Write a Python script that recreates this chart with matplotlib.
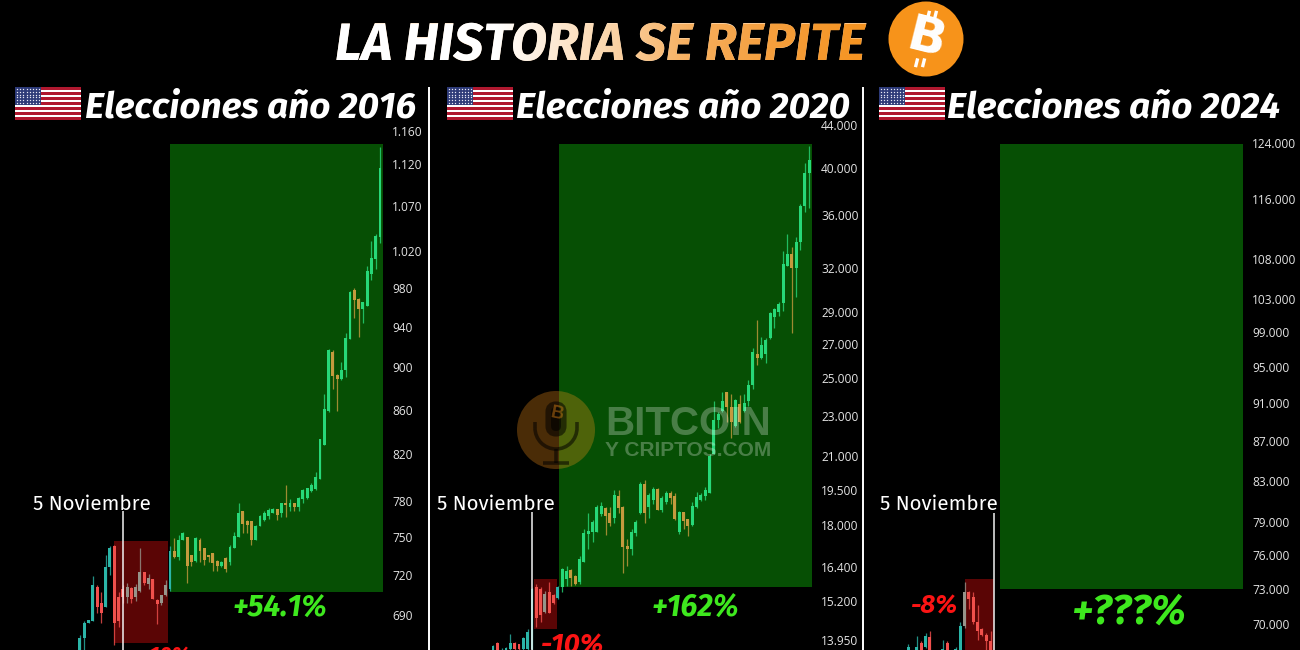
# plot.py
# Three bitcoin candle charts around the US elections, one panel per year

import numpy as np
import matplotlib
matplotlib.use("Agg")
import matplotlib.pyplot as plt
from matplotlib import font_manager as fm
from matplotlib.colors import LinearSegmentedColormap
from matplotlib.patches import Circle, FancyBboxPatch, Rectangle, Arc
from matplotlib.textpath import TextPath
from matplotlib.transforms import Affine2D

W, H = 1300, 650

# ---- data ----
open_2016 = [655, 673, 684, 685, 711, 699, 696, 726, 743, 703, 709, 703, 710, 703, 708, 722, 713, 717,
             701, 699, 705, 709, 739, 734, 748, 750, 736, 731, 748, 741, 736, 737, 731, 727, 733, 730,
             741, 750, 771, 763, 763, 748, 759, 764, 767, 770, 773, 770, 778, 775, 778, 775, 781, 782,
             788, 790, 798, 828, 859, 915, 893, 889, 897, 928, 978, 969, 958, 961, 995, 1011, 1035]
high_2016 = [675, 685, 686, 719, 712, 707, 736, 743, 744, 707, 712, 714, 711, 713, 741, 722, 721, 717,
             702, 705, 716, 743, 749, 752, 754, 750, 736, 750, 749, 741, 736, 737, 732, 731, 734, 744,
             754, 778, 771, 764, 763, 760, 768, 771, 774, 774, 773, 778, 793, 781, 778, 783, 790, 791,
             795, 804, 833, 875, 918, 917, 894, 905, 934, 977, 980, 970, 966, 1004, 1031, 1039, 1141]
low_2016 = [650, 664, 684, 685, 691, 684, 696, 720, 668, 681, 699, 699, 699, 700, 707, 712, 709, 702,
            683, 697, 704, 708, 733, 732, 748, 714, 727, 730, 730, 728, 730, 723, 723, 726, 722, 728,
            741, 750, 753, 753, 744, 748, 759, 763, 765, 770, 764, 766, 766, 771, 771, 771, 778, 781,
            787, 789, 798, 828, 858, 879, 859, 888, 891, 928, 949, 930, 944, 961, 989, 1000, 1029]
close_2016 = [673, 684, 686, 712, 696, 691, 726, 741, 684, 685, 703, 711, 702, 711, 722, 714, 718, 702,
              698, 705, 712, 739, 734, 748, 753, 727, 730, 749, 739, 732, 734, 729, 727, 730, 725, 742,
              751, 770, 761, 760, 748, 759, 767, 770, 772, 773, 768, 778, 776, 778, 775, 782, 789, 791,
              793, 800, 833, 861, 917, 892, 889, 897, 929, 976, 968, 958, 965, 998, 1012, 1036, 1115]

open_2020 = [13600, 13860, 13560, 13600, 13660, 13830, 13810, 13650, 13660, 13650, 15680, 15620, 14840,
             15510, 15400, 15300, 15680, 15970, 16300, 16070, 15880, 16600, 17640, 17720, 17750, 18480,
             18700, 18500, 18300, 19230, 18770, 17210, 17090, 17700, 18500, 19760, 18760, 19030, 19510,
             18620, 18950, 19370, 19230, 17720, 18530, 18260, 18000, 18750, 19030, 19230, 19370, 21100,
             22770, 23260, 24230, 23430, 22480, 23600, 23220, 23750, 24650, 26420, 26170, 26420, 27330,
             28640, 28960, 29600, 32110, 33010, 32000, 33900, 36700, 39570]
high_2020 = [13780, 13880, 13680, 13720, 14110, 13870, 13820, 14040, 14290, 15640, 15800, 15680, 15560,
             15860, 15460, 15740, 16360, 16450, 16320, 16130, 16830, 17850, 18500, 18200, 18820, 18960,
             18750, 18750, 19470, 19470, 18790, 17470, 17870, 18200, 19830, 19900, 19330, 19620, 19580,
             19230, 19430, 19430, 19330, 18600, 18560, 18280, 18950, 19400, 19370, 19600, 21100, 23750,
             23180, 24230, 24270, 24150, 23850, 24070, 24150, 24900, 26750, 28450, 27430, 27330, 29000,
             29270, 29640, 33240, 34530, 33510, 34300, 36900, 40430, 42000]
low_2020 = [13500, 13550, 13500, 13550, 13550, 13550, 13600, 13600, 13600, 13500, 14360, 14520, 14790,
            14790, 15120, 15280, 15510, 15740, 15740, 15760, 15810, 16580, 17060, 17340, 17750, 18370,
            17600, 17980, 18100, 18500, 16200, 16430, 16860, 17570, 18480, 18080, 18300, 18900, 18620,
            18540, 18870, 18900, 18200, 17660, 17870, 17570, 17970, 18700, 19000, 19030, 19330, 21100,
            22370, 23180, 22680, 21870, 22430, 22600, 23180, 23500, 24400, 25750, 26070, 25870, 27270,
            27950, 28740, 29060, 32110, 27680, 30000, 33280, 36250, 36570]
close_2020 = [13760, 13620, 13640, 13700, 13850, 13650, 13650, 14000, 14180, 15620, 14640, 14730, 15460,
              14790, 15150, 15680, 16320, 16260, 16000, 15790, 16700, 17700, 17780, 18130, 18750, 18790,
              18400, 18100, 19260, 18700, 17150, 17090, 17750, 18130, 19760, 18500, 19260, 19510, 18650,
              19150, 19370, 19150, 18240, 18560, 18170, 17970, 18800, 19200, 19280, 19470, 21020, 22770,
              23100, 23750, 23430, 22680, 23800, 22680, 23680, 24650, 26480, 26170, 26940, 27230, 28910,
              29210, 29500, 32230, 33010, 32000, 33880, 36750, 39570, 40660]

open_2024 = [67200, 67000, 67200, 68400, 68130, 68900, 67000, 67000, 67200, 68400, 67000, 67300, 67560,
             69840, 72690, 72260, 70120, 69550, 69120, 68610]
high_2024 = [68360, 67500, 69000, 68550, 69270, 69400, 67400, 67400, 68700, 68550, 67400, 68130, 70120,
             73540, 72830, 72690, 71550, 69700, 69270, 69410]
low_2024 = [67000, 66900, 67000, 67600, 68000, 67200, 66800, 66800, 67000, 67000, 66800, 67100, 67300,
            69700, 71260, 69980, 68700, 68980, 67840, 67000]
close_2024 = [68100, 67400, 68130, 67840, 68980, 67560, 67300, 67300, 67930, 67560, 67300, 67930, 69840,
              72690, 72120, 70120, 69410, 69120, 68550, 67560]

ticks_2016 = [1160, 1120, 1070, 1020, 980, 940, 900, 860, 820, 780, 750, 720, 690]
tick_labels_2016 = ["1.160", "1.120", "1.070", "1.020", "980", "940", "900", "860", "820", "780", "750", "720", "690"]
ticks_2020 = [44000, 40000, 36000, 32000, 29000, 27000, 25000, 23000, 21000, 19500, 18000, 16400, 15200, 13950]
tick_labels_2020 = ["44.000", "40.000", "36.000", "32.000", "29.000", "27.000", "25.000", "23.000",
                    "21.000", "19.500", "18.000", "16.400", "15.200", "13.950"]
ticks_2024 = [124000, 116000, 108000, 103000, 99000, 95000, 91000, 87000, 83000, 79000, 76000, 73000, 70000]
tick_labels_2024 = ["124.000", "116.000", "108.000", "103.000", "99.000", "95.000", "91.000", "87.000",
                    "83.000", "79.000", "76.000", "73.000", "70.000"]

years = ["2016", "2020", "2024"]
gain_labels = ["+54.1%", "+162%", "+???%"]
drop_labels = ["-10%", "-10%", "-8%"]


def pick_head_font(names):
    # only take a family that really has a static bold italic
    for n in names:
        for f in fm.fontManager.ttflist:
            if f.name == n and f.style == "italic" and f.weight in (700, "bold"):
                return n
    return "DejaVu Sans"


def pick_font(names):
    have = set(fm.fontManager.get_font_names())
    for n in names:
        if n in have:
            return n
    return "DejaVu Sans"


HEAD_FONT = pick_head_font(["Source Sans 3", "Source Sans Pro", "Fira Sans", "Fira Sans Condensed", "Open Sans"])
BODY_FONT = pick_font(["Open Sans", "Noto Sans"])
BLACK_FONT = pick_font(["Liberation Sans", "DejaVu Sans"])


def head_prop(size=10):
    return fm.FontProperties(family=HEAD_FONT, weight="bold", style="italic", size=size)


def fit_size(text, width_px, prop):
    # font size in points that makes text width_px wide at 100 dpi
    w = TextPath((0, 0), text, size=100, prop=prop).get_extents().width
    return width_px * 72 / w


def draw_candles(ax, o, h, l, c, green_x, red_x):
    o, h, l, c = map(np.array, (o, h, l, c))
    x = np.arange(len(o))
    up = c >= o
    in_green = x > green_x[0] + 0.5
    in_red = (x > red_x[0] - 0.2) & (x < red_x[1]) & ~in_green
    colors = np.where(up, "#2bb5a8", "#f2504e").astype(object)
    colors[in_red & up] = "#96948a"
    colors[in_red & ~up] = "#f0504c"
    colors[in_green & up] = "#27d878"
    colors[in_green & ~up] = "#c49a3e"
    ax.vlines(x, l, h, colors=list(colors), lw=0.9, alpha=0.8, zorder=3)
    ax.bar(x, np.abs(c - o), bottom=np.minimum(o, c), width=0.68, color=list(colors), lw=0, zorder=4)


def draw_panel(left, right, top, xlim, ylim, ticks, labels, o, h, l, c, green_box, red_box, event_x, event_top):
    ax = fig.add_axes([left / W, 0, (right - left) / W, (H - top) / H])
    ax.set_facecolor("none")
    ax.set_yscale("log")
    ax.set_xlim(*xlim)
    ax.set_ylim(*ylim)
    ax.yaxis.tick_right()
    ax.set_yticks(ticks)
    ax.set_yticklabels(labels)
    ax.minorticks_off()
    ax.tick_params(axis="y", length=0, pad=6.5, labelsize=8.6, labelcolor="#e4e4e4")
    for lab in ax.get_yticklabels():
        lab.set_fontfamily(BODY_FONT)
    ax.set_xticks([])
    for s in ax.spines.values():
        s.set_visible(False)
    ax.add_patch(Rectangle((green_box[0], green_box[2]), green_box[1] - green_box[0],
                           green_box[3] - green_box[2], color="#064f04", lw=0, zorder=1))
    ax.add_patch(Rectangle((red_box[0], red_box[2]), red_box[1] - red_box[0],
                           red_box[3] - red_box[2], color="#5a0505", lw=0, zorder=1))
    draw_candles(ax, o, h, l, c, green_box, red_box)
    ax.vlines(event_x, ylim[0], event_top, colors="#f2f2f2", lw=1.1, zorder=5)
    return ax


def draw_flag(ax, x, y, w=66, h=33):
    sh = h / 13
    for i in range(13):
        ax.add_patch(Rectangle((x, y + i * sh), w, sh, color="#b0182f" if i % 2 == 0 else "#ffffff", lw=0))
    ax.add_patch(Rectangle((x, y), w * 0.4, sh * 7, color="#2d3a78", lw=0))
    gx, gy = np.meshgrid(np.linspace(x + 2, x + w * 0.4 - 2, 8), np.linspace(y + 2, y + sh * 7 - 2, 6))
    ax.plot(gx.ravel(), gy.ravel(), ls="", marker="s", ms=0.9, mew=0, color="#e8e8f4")


fig = plt.figure(figsize=(W / 100, H / 100), dpi=100, facecolor="black")

draw_panel(0, 383, 120, (-18.65, 70.7), (664.3, 1174), ticks_2016, tick_labels_2016,
           open_2016, high_2016, low_2016, close_2016,
           (20.98, 70.7, 707, 1144), (8.0, 20.6, 669, 747), 10, 771)
draw_panel(431, 812, 120, (-14.32, 73.67), (13630, 44494), ticks_2020, tick_labels_2020,
           open_2020, high_2020, low_2020, close_2020,
           (15.17, 73.67, 15700, 42170), (9.54, 14.78, 14300, 15980), 9, 18560)
draw_panel(865, 1243, 120, (-10, 77.3), (67860, 127440), ticks_2024, tick_labels_2024,
           open_2024, high_2024, low_2024, close_2024,
           (21.2, 77.3, 73000, 123850), (13.1, 19.8, 67860, 73850), 19.7, 79850)

# overlay in pixel coordinates for the titles and decoration
top = fig.add_axes([0, 0, 1, 1], zorder=10)
top.set_xlim(0, W)
top.set_ylim(H, 0)
top.axis("off")
top.patch.set_visible(False)

for sep_x in (428.5, 863):
    top.plot([sep_x, sep_x], [87, H], color="white", lw=1.4, solid_capstyle="butt")

# main title: real text with an orange gradient laid over it
title = "LA HISTORIA SE REPITE"
title_x, title_base = 335, 60
title_size = fit_size(title, 530, head_prop())
head_fp = head_prop(title_size)
top.text(title_x, title_base, title, fontproperties=head_fp, color="#ffe2c2", va="baseline", ha="left")
tpath = TextPath((0, 0), title, size=title_size, prop=head_fp)
tr = Affine2D().scale(100 / 72, -100 / 72).translate(title_x, title_base) + top.transData
cmap = LinearSegmentedColormap.from_list("title", [(0, "#ffffff"), (0.3, "#ffffff"), (0.5, "#fbd8b0"),
                                                    (0.66, "#f7b060"), (0.8, "#f5a040"), (1, "#f5931f")])
img = top.imshow(np.linspace(0, 1, 256)[None, :], extent=(title_x, 870, 70, 10), cmap=cmap, aspect="auto", zorder=3)
img.set_clip_path(tpath, transform=tr)
top.set_xlim(0, W)
top.set_ylim(H, 0)

# bitcoin coin
top.add_patch(Circle((926, 39), 37.5, color="#f7931a", lw=0))
top.text(926, 39, "B", rotation=-14, ha="center", va="center", rotation_mode="anchor",
         family="DejaVu Sans", weight="bold", size=36, color="white")
ang = np.deg2rad(14)
for dx in (-3.5, 3.5):
    for s1, s2 in ((-29, -20), (20, 29)):
        xs = [926 + dx - s1 * np.sin(ang), 926 + dx - s2 * np.sin(ang)]
        ys = [39 + s1 * np.cos(ang), 39 + s2 * np.cos(ang)]
        top.plot(xs, ys, color="white", lw=2.4, solid_capstyle="butt")

# panel headings
heading_size = fit_size("Elecciones año 2016", 329, head_prop())
for flag_x, text_x, year in zip((15, 447, 879), (85, 516, 947), years):
    draw_flag(top, flag_x, 87)
    top.text(text_x, 117, "Elecciones año " + year, fontproperties=head_prop(heading_size),
             color="white", va="baseline", ha="left")

note_prop = fm.FontProperties(family=HEAD_FONT if HEAD_FONT != "DejaVu Sans" else BODY_FONT)
note_size = fit_size("5 Noviembre", 116, note_prop)
for cx in (92, 496, 939):
    top.text(cx, 510, "5 Noviembre", family=note_prop.get_family(), size=note_size, color="white",
             ha="center", va="baseline")

for cx, base, width, lab in zip((280, 695, 1128), (617, 617, 624), (92, 85, 111), gain_labels):
    top.text(cx, base, lab, fontproperties=head_prop(fit_size(lab, width, head_prop())), color="#3ee81e",
             ha="center", va="baseline")
for cx, base, width, lab in zip((166, 573, 935), (662, 653, 613), (47, 61, 45), drop_labels):
    top.text(cx, base, lab, fontproperties=head_prop(fit_size(lab, width, head_prop())), color="#fb1414",
             ha="center", va="baseline", clip_on=True)

# watermark
top.add_patch(Circle((556, 430), 39, color="#f7931a", alpha=0.3, lw=0))
dark = dict(color="black", alpha=0.55)
top.add_patch(FancyBboxPatch((551, 407), 10, 24, boxstyle="round,pad=0,rounding_size=5", lw=8, ec="black",
                             fc="black", alpha=0.55))
top.add_patch(Arc((556, 428), 42, 42, theta1=0, theta2=180, lw=2.6, ec="black", alpha=0.55))
top.plot([535, 535], [422, 428], lw=2.6, solid_capstyle="butt", **dark)
top.plot([577, 577], [422, 428], lw=2.6, solid_capstyle="butt", **dark)
top.plot([556, 556], [449, 463], lw=2.6, solid_capstyle="butt", **dark)
top.plot([543, 569], [463, 463], lw=2.6, solid_capstyle="butt", **dark)
top.text(557, 414, "B", family=BLACK_FONT, weight="bold", size=13, color="#f7931a", alpha=0.4,
         rotation=-12, ha="center", va="center")
top.text(605, 435, "BITCOIN", family=BLACK_FONT, weight="bold", size=29, color="white", alpha=0.27,
         ha="left", va="baseline")
top.text(605, 456, "Y CRIPTOS.COM", family=BLACK_FONT, weight="bold", size=15, color="white", alpha=0.27,
         ha="left", va="baseline")

fig.savefig("out.png", dpi=100, facecolor="black")
